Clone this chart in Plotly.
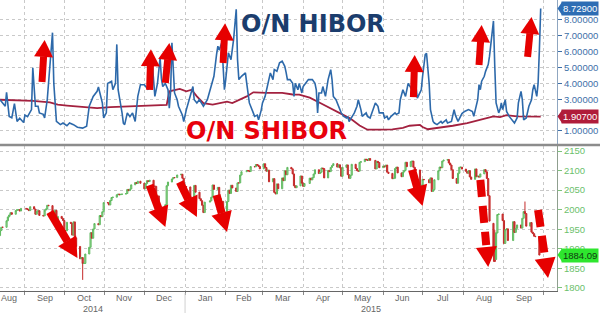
import numpy as np
import pandas as pd
import plotly.graph_objects as go

# ---------------- data ----------------
hibor_dates = [
    "2014-08-13", "2014-08-17", "2014-08-18", "2014-08-20", "2014-08-22", "2014-08-24", "2014-08-26", "2014-08-28",
    "2014-08-31", "2014-09-01", "2014-09-03", "2014-09-06", "2014-09-07", "2014-09-09", "2014-09-11", "2014-09-12",
    "2014-09-15", "2014-09-16", "2014-09-18", "2014-09-19", "2014-09-22", "2014-09-23", "2014-09-24", "2014-09-25",
    "2014-09-28", "2014-09-30", "2014-10-03", "2014-10-05", "2014-10-08", "2014-10-11", "2014-10-15", "2014-10-18",
    "2014-10-20", "2014-10-23", "2014-10-26", "2014-10-27", "2014-10-30", "2014-10-31", "2014-11-02", "2014-11-03",
    "2014-11-06", "2014-11-07", "2014-11-09", "2014-11-10", "2014-11-11", "2014-11-12", "2014-11-14", "2014-11-15",
    "2014-11-16", "2014-11-18", "2014-11-20", "2014-11-22", "2014-11-24", "2014-11-26", "2014-11-28", "2014-12-01",
    "2014-12-03", "2014-12-04", "2014-12-07", "2014-12-09", "2014-12-11", "2014-12-12", "2014-12-13", "2014-12-14",
    "2014-12-15", "2014-12-17", "2014-12-19", "2014-12-20", "2014-12-21", "2014-12-22", "2014-12-23", "2014-12-24",
    "2014-12-26", "2014-12-27", "2014-12-30", "2014-12-31", "2015-01-02", "2015-01-05", "2015-01-07", "2015-01-08",
    "2015-01-10", "2015-01-12", "2015-01-15", "2015-01-18", "2015-01-20", "2015-01-22", "2015-01-23", "2015-01-25",
    "2015-01-26", "2015-01-27", "2015-01-29", "2015-01-31", "2015-02-01", "2015-02-03", "2015-02-05", "2015-02-07",
    "2015-02-08", "2015-02-09", "2015-02-10", "2015-02-11", "2015-02-13", "2015-02-16", "2015-02-17", "2015-02-19",
    "2015-02-22", "2015-02-23", "2015-02-25", "2015-02-26", "2015-02-28", "2015-03-01", "2015-03-03", "2015-03-04",
    "2015-03-06", "2015-03-07", "2015-03-09", "2015-03-10", "2015-03-12", "2015-03-14", "2015-03-16", "2015-03-18",
    "2015-03-19", "2015-03-20", "2015-03-22", "2015-03-24", "2015-03-25", "2015-03-26", "2015-03-28", "2015-03-29",
    "2015-03-31", "2015-04-01", "2015-04-04", "2015-04-05", "2015-04-08", "2015-04-10", "2015-04-11", "2015-04-12",
    "2015-04-13", "2015-04-15", "2015-04-16", "2015-04-18", "2015-04-20", "2015-04-22", "2015-04-23", "2015-04-24",
    "2015-04-26", "2015-04-28", "2015-04-30", "2015-05-02", "2015-05-04", "2015-05-05", "2015-05-06", "2015-05-09",
    "2015-05-10", "2015-05-12", "2015-05-13", "2015-05-15", "2015-05-16", "2015-05-19", "2015-05-20", "2015-05-22",
    "2015-05-24", "2015-05-26", "2015-05-28", "2015-05-29", "2015-06-01", "2015-06-02", "2015-06-04", "2015-06-05",
    "2015-06-07", "2015-06-10", "2015-06-11", "2015-06-13", "2015-06-14", "2015-06-16", "2015-06-18", "2015-06-20",
    "2015-06-23", "2015-06-25", "2015-06-27", "2015-06-30", "2015-07-01", "2015-07-03", "2015-07-04", "2015-07-06",
    "2015-07-07", "2015-07-09", "2015-07-10", "2015-07-12", "2015-07-15", "2015-07-16", "2015-07-19", "2015-07-20",
    "2015-07-23", "2015-07-25", "2015-07-26", "2015-07-28", "2015-07-31", "2015-08-02", "2015-08-05", "2015-08-08",
    "2015-08-09", "2015-08-12", "2015-08-13", "2015-08-14", "2015-08-15", "2015-08-17", "2015-08-18", "2015-08-20",
    "2015-08-21", "2015-08-23", "2015-08-24", "2015-08-25", "2015-08-26", "2015-08-28", "2015-08-29", "2015-08-30",
    "2015-08-31", "2015-09-02", "2015-09-03", "2015-09-05", "2015-09-07", "2015-09-09", "2015-09-11", "2015-09-12",
    "2015-09-14", "2015-09-15", "2015-09-16", "2015-09-18", "2015-09-20", "2015-09-22", "2015-09-23", "2015-09-24",
    "2015-09-26", "2015-09-27", "2015-09-28", "2015-09-29",
]
hibor_values = [
    2.97, 2.56, 3.44, 1.92, 1.83, 2.72, 1.60, 1.80,
    1.53, 2.00, 1.90, 2.35, 4.98, 2.56, 2.56, 2.14,
    2.05, 1.82, 2.97, 4.00, 7.20, 4.00, 2.35, 1.60,
    1.40, 1.50, 1.33, 1.50, 1.40, 1.24, 1.18, 1.30,
    2.56, 3.18, 3.50, 3.77, 2.76, 1.82, 2.14, 4.00,
    4.14, 3.60, 4.00, 6.46, 3.60, 3.18, 2.14, 1.50,
    1.40, 2.14, 1.90, 2.14, 1.60, 3.18, 3.92, 3.92,
    3.70, 3.60, 5.30, 3.18, 4.00, 5.08, 5.63, 4.30,
    3.80, 4.00, 3.60, 2.44, 3.50, 6.56, 5.08, 3.40,
    2.97, 2.56, 2.00, 1.60, 2.35, 3.18, 3.80, 2.97,
    2.77, 2.97, 2.56, 2.97, 3.60, 4.24, 4.45, 5.82,
    6.35, 6.10, 6.57, 3.60, 4.24, 5.93, 5.50, 6.78,
    8.05, 8.68, 5.50, 4.24, 4.45, 4.66, 4.00, 2.77,
    2.14, 1.92, 2.00, 1.70, 2.30, 2.77, 3.18, 3.60,
    4.24, 4.66, 4.24, 4.87, 4.77, 5.30, 5.40, 5.08,
    4.70, 4.24, 4.24, 4.00, 3.18, 4.00, 3.60, 4.00,
    3.40, 3.80, 4.14, 4.24, 4.24, 4.00, 3.60, 2.14,
    3.40, 3.40, 3.80, 3.18, 4.24, 4.87, 4.24, 3.18,
    2.97, 2.56, 2.14, 1.92, 1.82, 1.92, 1.60, 2.00,
    2.14, 2.56, 2.97, 2.35, 1.92, 2.14, 1.92, 1.82,
    2.35, 2.77, 2.56, 2.14, 2.14, 1.82, 1.92, 1.70,
    1.92, 2.14, 2.05, 2.14, 2.97, 3.60, 3.18, 4.00,
    3.60, 4.45, 3.07, 3.60, 4.45, 5.82, 5.90, 4.00,
    2.35, 1.60, 1.50, 1.40, 1.60, 1.50, 1.70, 1.50,
    1.60, 2.35, 2.00, 1.60, 2.10, 2.23, 2.35, 2.23,
    1.92, 2.97, 3.92, 3.60, 4.14, 4.45, 4.76, 5.19,
    5.72, 7.00, 7.94, 5.08, 2.77, 2.14, 2.35, 2.77,
    2.35, 2.97, 2.23, 1.92, 1.70, 1.50, 1.82, 2.77,
    3.50, 2.97, 1.70, 1.82, 2.56, 2.97, 3.60, 3.92,
    3.18, 4.00, 6.14, 8.729,
]

shibor_dates = [
    "2014-08-13", "2014-08-26", "2014-09-07", "2014-09-20", "2014-09-26", "2014-10-03", "2014-10-18", "2014-10-26",
    "2014-11-05", "2014-11-22", "2014-12-05", "2014-12-18", "2014-12-20", "2014-12-28", "2015-01-02", "2015-01-06",
    "2015-01-10", "2015-01-15", "2015-01-22", "2015-02-02", "2015-02-06", "2015-02-17", "2015-02-22", "2015-03-04",
    "2015-03-16", "2015-03-24", "2015-03-29", "2015-04-06", "2015-04-14", "2015-04-21", "2015-04-29", "2015-05-07",
    "2015-05-14", "2015-05-20", "2015-05-30", "2015-06-08", "2015-06-16", "2015-06-21", "2015-06-29", "2015-07-01",
    "2015-07-05", "2015-07-14", "2015-07-24", "2015-08-04", "2015-08-14", "2015-08-24", "2015-08-29", "2015-09-03",
    "2015-09-11", "2015-09-23", "2015-09-29",
]
shibor_values = [
    2.97, 2.95, 2.90, 2.81, 2.66, 2.60, 2.51, 2.44,
    2.50, 2.56, 2.60, 2.64, 3.50, 3.65, 3.50, 3.60,
    3.18, 2.76, 2.66, 2.85, 2.76, 3.18, 3.44, 3.40,
    3.40, 3.30, 3.29, 3.10, 2.76, 2.45, 2.10, 1.78,
    1.35, 1.08, 1.08, 1.10, 1.20, 1.33, 1.38, 1.25,
    1.11, 1.20, 1.33, 1.50, 1.70, 1.92, 1.88, 2.00,
    1.92, 1.91, 1.907,
]

# S&P 500 daily closes (trading days, by month)
sp_months = ["2014-08", "2014-09", "2014-10", "2014-11", "2014-12", "2015-01", "2015-02",
             "2015-03", "2015-04", "2015-05", "2015-06", "2015-07", "2015-08", "2015-09"]
sp_days = [
    [13, 14, 15, 18, 19, 20, 21, 22, 25, 26, 27, 28, 29],
    [2, 3, 4, 5, 8, 9, 10, 11, 12, 15, 16, 17, 18, 19, 22, 23, 24, 25, 26, 29, 30],
    [1, 2, 3, 6, 7, 8, 9, 10, 13, 14, 15, 16, 17, 20, 21, 22, 23, 24, 27, 28, 29, 30, 31],
    [3, 4, 5, 6, 7, 10, 11, 12, 13, 14, 17, 18, 19, 20, 21, 24, 25, 26, 28],
    [1, 2, 3, 4, 5, 8, 9, 10, 11, 12, 15, 16, 17, 18, 19, 22, 23, 24, 26, 29, 30, 31],
    [2, 5, 6, 7, 8, 9, 12, 13, 14, 15, 16, 20, 21, 22, 23, 26, 27, 28, 29, 30],
    [2, 3, 4, 5, 6, 9, 10, 11, 12, 13, 17, 18, 19, 20, 23, 24, 25, 26, 27],
    [2, 3, 4, 5, 6, 9, 10, 11, 12, 13, 16, 17, 18, 19, 20, 23, 24, 25, 26, 27, 30, 31],
    [1, 2, 6, 7, 8, 9, 10, 13, 14, 15, 16, 17, 20, 21, 22, 23, 24, 27, 28, 29, 30],
    [1, 4, 5, 6, 7, 8, 11, 12, 13, 14, 15, 18, 19, 20, 21, 22, 26, 27, 28, 29],
    [1, 2, 3, 4, 5, 8, 9, 10, 11, 12, 15, 16, 17, 18, 19, 22, 23, 24, 25, 26, 29, 30],
    [1, 2, 6, 7, 8, 9, 10, 13, 14, 15, 16, 17, 20, 21, 22, 23, 24, 27, 28, 29, 30, 31],
    [3, 4, 5, 6, 7, 10, 11, 12, 13, 14, 17, 18, 19, 20, 21, 24, 25, 26, 27, 28, 31],
    [1, 2, 3, 4, 8, 9, 10, 11, 14, 15, 16, 17, 18, 21, 22, 23, 24, 25, 28],
]
sp_close = [
    [1946.7, 1955.2, 1955.1, 1971.7, 1981.6, 1986.5, 1992.4, 1988.4, 1997.9, 2000.0, 2000.1, 1996.7, 2003.4],
    [2002.3, 2000.7, 1997.7, 2007.7, 2001.5, 1988.4, 1995.7, 1997.5, 1985.5, 1984.1, 1999.0, 2001.6, 2011.4,
     2010.4, 1994.3, 1982.8, 1998.3, 1966.0, 1982.9, 1977.8, 1972.3],
    [1946.2, 1946.2, 1967.9, 1964.8, 1935.1, 1968.9, 1928.2, 1906.1, 1874.7, 1877.7, 1862.5, 1862.8, 1886.8,
     1904.0, 1941.3, 1927.1, 1950.8, 1964.6, 1961.6, 1985.1, 1982.3, 1994.7, 2018.1],
    [2017.8, 2012.1, 2023.6, 2031.2, 2032.0, 2038.3, 2039.7, 2038.3, 2039.3, 2039.8, 2041.3, 2051.8, 2048.7,
     2052.8, 2063.5, 2069.4, 2067.0, 2072.8, 2067.6],
    [2053.4, 2066.6, 2074.3, 2071.9, 2075.4, 2060.3, 2059.8, 2026.1, 2035.3, 2002.3, 1989.6, 1972.7, 2012.9,
     2061.2, 2070.7, 2078.5, 2082.2, 2081.9, 2088.8, 2090.6, 2080.4, 2058.9],
    [2058.2, 2020.6, 2002.6, 2025.9, 2062.1, 2044.8, 2028.3, 2023.0, 2011.3, 1992.7, 2019.4, 2022.6, 2032.1,
     2063.2, 2051.8, 2057.1, 2029.6, 2002.2, 2021.3, 1995.0],
    [2020.9, 2050.0, 2041.5, 2062.5, 2055.5, 2046.7, 2068.6, 2068.5, 2088.5, 2097.0, 2100.3, 2099.7, 2097.5,
     2110.3, 2109.7, 2115.5, 2113.9, 2110.7, 2104.5],
    [2117.4, 2107.8, 2098.5, 2101.0, 2071.3, 2079.4, 2044.2, 2040.2, 2066.0, 2053.4, 2081.2, 2074.3, 2099.5,
     2089.3, 2108.1, 2104.4, 2091.5, 2061.1, 2056.2, 2061.0, 2086.2, 2067.9],
    [2059.7, 2067.0, 2080.6, 2076.3, 2081.9, 2091.2, 2102.1, 2092.4, 2095.8, 2106.6, 2105.0, 2081.2, 2100.4,
     2097.3, 2108.0, 2112.9, 2117.7, 2108.9, 2114.8, 2106.9, 2085.5],
    [2108.3, 2114.5, 2089.5, 2080.2, 2088.0, 2116.1, 2105.3, 2099.9, 2098.5, 2121.1, 2122.7, 2129.2, 2127.8,
     2125.9, 2130.8, 2126.1, 2104.2, 2123.5, 2120.8, 2107.4],
    [2111.7, 2109.6, 2114.1, 2095.8, 2092.8, 2079.3, 2080.2, 2105.2, 2108.9, 2094.1, 2084.4, 2096.3, 2100.4,
     2121.2, 2110.0, 2122.9, 2124.2, 2108.6, 2102.3, 2101.5, 2057.6, 2063.1],
    [2077.4, 2076.8, 2068.8, 2081.3, 2046.7, 2051.3, 2076.6, 2099.6, 2109.0, 2107.4, 2124.3, 2126.6, 2128.3,
     2119.2, 2114.2, 2102.2, 2079.7, 2067.6, 2093.3, 2108.6, 2108.6, 2103.8],
    [2098.0, 2093.3, 2099.8, 2083.6, 2077.6, 2104.2, 2084.1, 2086.1, 2083.4, 2091.5, 2102.4, 2096.9, 2079.6,
     2035.7, 1970.9, 1893.2, 1867.6, 1940.5, 1987.7, 1988.9, 1972.2],
    [1913.9, 1948.9, 1951.1, 1921.2, 1969.4, 1942.0, 1952.3, 1961.1, 1953.0, 1978.1, 1995.3, 1990.2, 1958.0,
     1967.0, 1942.7, 1938.8, 1932.2, 1931.3, 1884.09],
]
sp_prev_close = 1933.8
# intraday extremes visible as wicks: date -> (open, high, low)
sp_wicks = {
    "2014-10-15": (None, None, 1820.7),
    "2015-08-24": (1965.2, 1965.2, 1867.0),
    "2015-08-25": (1898.1, 1948.0, 1867.1),
    "2015-08-26": (1872.8, 1943.1, 1872.8),
    "2015-09-17": (None, 2020.9, None),
}

hibor_ticks = [1, 2, 3, 4, 5, 6, 7, 8]
sp_ticks = [1800, 1850, 1900, 1950, 2000, 2050, 2100, 2150]

# arrows: (tail date, tail value, tip date, tip value)
up_arrows = [
    ("2014-09-14", 4.09, "2014-09-16", 6.74),
    ("2014-12-05", 3.59, "2014-12-06", 6.15),
    ("2014-12-17", 4.03, "2014-12-20", 6.55),
    ("2015-01-30", 5.29, "2015-01-31 12:00", 7.79),
    ("2015-06-24", 3.14, "2015-06-25", 5.79),
    ("2015-08-13", 5.16, "2015-08-15", 7.68),
    ("2015-09-19", 5.67, "2015-09-22", 8.19),
]
down_arrows = [
    ("2014-09-20", 1994.0, "2014-10-11", 1876.6),
    ("2014-12-05", 2063.0, "2014-12-17", 1955.8),
    ("2014-12-28", 2070.8, "2015-01-10", 1981.4),
    ("2015-01-25", 2037.6, "2015-02-02", 1943.0),
    ("2015-06-23", 2101.5, "2015-07-01", 2009.5),
]
down_arrows_dashed = [
    ("2015-08-14", 2076.0, "2015-08-20", 1853.7),
    ("2015-09-27", 1999.3, "2015-10-04 14:00", 1825.5),
]

# ---------------- layout constants ----------------
W, H = 600, 313
ML, MR, MT, MB = 0, 43, 0, 22
PW, PH = W - ML - MR, H - MT - MB
X_RANGE = ["2014-08-13", "2015-10-11 10:00"]
TOP_DOMAIN = [0.5052, 1.0]
BOT_DOMAIN = [0.0, 0.4983]
TOP_RANGE = [0.18, 9.26]
BOT_RANGE = [1792.3, 2162.8]

GRID = "#c9c9c9"
BLUE = "#2d69aa"
MAROON = "#a3213f"
ARROW_RED = "#e60000"
AXIS_TEXT = "#666666"

# ---------------- candle data ----------------
dates, close = [], []
for m, ds, cs in zip(sp_months, sp_days, sp_close):
    for d, c in zip(ds, cs):
        dates.append(pd.Timestamp(f"{m}-{d:02d}"))
        close.append(c)
opens = [sp_prev_close] + close[:-1]
highs = [max(o, c) for o, c in zip(opens, close)]
lows = [min(o, c) for o, c in zip(opens, close)]
for i, dt in enumerate(dates):
    key = dt.strftime("%Y-%m-%d")
    if key in sp_wicks:
        o, h, l = sp_wicks[key]
        if o is not None:
            opens[i] = o
        if h is not None:
            highs[i] = h
        if l is not None:
            lows[i] = l

fig = go.Figure()
fig.add_trace(go.Candlestick(
    x=dates, open=opens, high=highs, low=lows, close=close,
    xaxis="x", yaxis="y",
    increasing=dict(line=dict(color="#5fb95f", width=1), fillcolor="#a9e2a9"),
    decreasing=dict(line=dict(color="#c42a2a", width=1), fillcolor="#d43a3a"),
    whiskerwidth=0, showlegend=False, hoverinfo="skip",
))
fig.add_trace(go.Scatter(
    x=shibor_dates, y=shibor_values, mode="lines",
    line=dict(color=MAROON, width=1.8), xaxis="x2", yaxis="y2", showlegend=False,
))
fig.add_trace(go.Scatter(
    x=hibor_dates, y=hibor_values, mode="lines",
    line=dict(color=BLUE, width=1.6), xaxis="x2", yaxis="y2", showlegend=False,
))

# ---------------- helpers for decorations ----------------
T0 = pd.Timestamp(X_RANGE[0]).value
T1 = pd.Timestamp(X_RANGE[1]).value


def data_px(date, v, yr, dom):
    xp = (pd.Timestamp(date).value - T0) / (T1 - T0) * PW
    yp = dom[0] + (v - yr[0]) / (yr[1] - yr[0]) * (dom[1] - dom[0])
    return np.array([xp, (1 - yp) * PH])


def px_paper(p):
    return p[0] / PW, 1 - p[1] / PH


def poly(pts, color):
    path = "M " + " L ".join("%.5f,%.5f" % px_paper(p) for p in pts) + " Z"
    return dict(type="path", xref="paper", yref="paper", path=path,
                fillcolor=color, line=dict(width=0), layer="above")


def arrow(tail, tip, ws, hl, hw, dash=None):
    u = tip - tail
    L = np.hypot(*u)
    u = u / L
    n = np.array([-u[1], u[0]])
    base = tip - u * hl
    shapes = [poly([base + n * hw / 2, tip, base - n * hw / 2], ARROW_RED)]
    total = L - hl
    segs = []
    if dash is None:
        segs.append((0.0, total + 0.5))
    else:
        s = 0.0
        while s < total - 2:
            e = min(s + dash[0], total - 2)
            segs.append((s, e))
            s = e + dash[1]
    for s, e in segs:
        a, b = tail + u * s, tail + u * e
        shapes.append(poly([a + n * ws / 2, b + n * ws / 2, b - n * ws / 2, a - n * ws / 2], ARROW_RED))
    return shapes


shapes = []
for td, tv, hd, hv in up_arrows:
    shapes += arrow(data_px(td, tv, TOP_RANGE, TOP_DOMAIN), data_px(hd, hv, TOP_RANGE, TOP_DOMAIN), 7, 17, 19)
for td, tv, hd, hv in down_arrows:
    shapes += arrow(data_px(td, tv, BOT_RANGE, BOT_DOMAIN), data_px(hd, hv, BOT_RANGE, BOT_DOMAIN), 8, 20, 21)
for td, tv, hd, hv in down_arrows_dashed:
    shapes += arrow(data_px(td, tv, BOT_RANGE, BOT_DOMAIN), data_px(hd, hv, BOT_RANGE, BOT_DOMAIN), 8, 20, 21,
                    dash=(17, 9))

# separator between panels
sep_y = 1 - 145 / PH
shapes.append(dict(type="line", xref="paper", yref="paper", x0=0, x1=W / PW, y0=sep_y, y1=sep_y,
                   line=dict(color="#8c8c8c", width=2.5), layer="above"))
# year divider below the axis
shapes.append(dict(type="line", xref="x", yref="paper", x0="2015-01-01", x1="2015-01-01",
                   y0=-MB / PH, y1=-2 / PH, line=dict(color="#d0d0d0", width=1)))

annotations = []
# last-value tags
tags = [
    (hibor_values[-1], "y2", "%.5f" % hibor_values[-1], "#2e6db4", "white", TOP_RANGE, TOP_DOMAIN),
    (shibor_values[-1], "y2", "%.5f" % shibor_values[-1], "#b01c3a", "white", TOP_RANGE, TOP_DOMAIN),
    (close[-1], "y", "%.2f" % close[-1], "#2ee62e", "#103a10", BOT_RANGE, BOT_DOMAIN),
]
for v, yref, txt, bg, fc, yr, dom in tags:
    annotations.append(dict(x=1, xref="paper", xanchor="left", xshift=4, y=v, yref=yref, yanchor="middle",
                            text=txt, showarrow=False, bgcolor=bg, borderpad=1,
                            font=dict(family="Liberation Sans", size=9.5, color=fc)))
    p = data_px(X_RANGE[1], v, yr, dom)
    shapes.append(poly([np.array([PW + 0.5, p[1]]), np.array([PW + 5, p[1] - 6.5]),
                        np.array([PW + 5, p[1] + 6.5])], bg))

# series labels
annotations.append(dict(x=313 / PW, y=1 - 24 / PH, xref="paper", yref="paper", text="<b>O/N HIBOR</b>",
                        showarrow=False, xanchor="center", yanchor="middle",
                        font=dict(family="DejaVu Sans", size=24, color="#1b3d6d")))
annotations.append(dict(x=266.5 / PW, y=1 - 131 / PH, xref="paper", yref="paper", text="<b>O/N SHIBOR</b>",
                        showarrow=False, xanchor="center", yanchor="middle",
                        font=dict(family="DejaVu Sans", size=24, color="#e8000b")))

# month labels centred in each month (first one clamped to the left edge)
t_start, t_end = pd.Timestamp(X_RANGE[0]), pd.Timestamp(X_RANGE[1])
month_starts = pd.date_range("2014-08-01", "2015-09-01", freq="MS")
for i, ms in enumerate(month_starts):
    me = ms + pd.offsets.MonthBegin(1)
    mid = ms + (me - ms) / 2
    annotations.append(dict(x=t_start if i == 0 else mid, xref="x", xanchor="left" if i == 0 else "center",
                            y=-6.5 / PH, yref="paper", text=ms.strftime("%b"), showarrow=False,
                            yanchor="middle", borderpad=0,
                            font=dict(family="Liberation Sans", size=9, color=AXIS_TEXT)))

# year labels centred on the visible part of each year
t_split = pd.Timestamp("2015-01-01")
for lab, a, b in [("2014", t_start, t_split), ("2015", t_split, t_end)]:
    annotations.append(dict(x=a + (b - a) / 2, xref="x", y=-17.8 / PH, yref="paper", text=lab, showarrow=False,
                            yanchor="middle", borderpad=0,
                            font=dict(family="Liberation Sans", size=9, color=AXIS_TEXT)))

axis_common = dict(showgrid=True, gridcolor=GRID, griddash="dot", gridwidth=1, zeroline=False)

fig.update_layout(
    width=W, height=H, margin=dict(l=ML, r=MR, t=MT, b=MB),
    paper_bgcolor="white", plot_bgcolor="white",
    showlegend=False, boxgap=0.15, boxgroupgap=0,
    xaxis=dict(anchor="y", domain=[0, 1], type="date", range=X_RANGE,
               rangeslider=dict(visible=False),
               tick0="2014-08-01", dtick="M1", showticklabels=False,
               ticks="outside", ticklen=3, tickcolor="#888888",
               showline=True, linecolor="#666666", linewidth=1,
               **axis_common),
    xaxis2=dict(anchor="y2", matches="x", domain=[0, 1], type="date", range=X_RANGE,
                tick0="2014-08-01", dtick="M1", showticklabels=False, ticks="",
                showline=False, **axis_common),
    yaxis=dict(domain=BOT_DOMAIN, range=BOT_RANGE, side="right", anchor="x",
               tickvals=sp_ticks, ticks="outside", ticklen=4, tickcolor="#7cc47c",
               showline=True, linecolor="#8f9f8f", linewidth=1,
               tickfont=dict(family="Liberation Sans", size=9.5, color="#6cbf6c"),
               **axis_common),
    yaxis2=dict(domain=TOP_DOMAIN, range=TOP_RANGE, side="right", anchor="x2",
                tickvals=hibor_ticks, tickformat=".5f", ticks="outside", ticklen=4, tickcolor="#3d6fa8",
                showline=True, linecolor="#8fa6c0", linewidth=1,
                tickfont=dict(family="Liberation Sans", size=9.5, color="#3d6fa8"),
                **axis_common),
    shapes=shapes,
    annotations=annotations,
)

fig.write_html("out.html")
